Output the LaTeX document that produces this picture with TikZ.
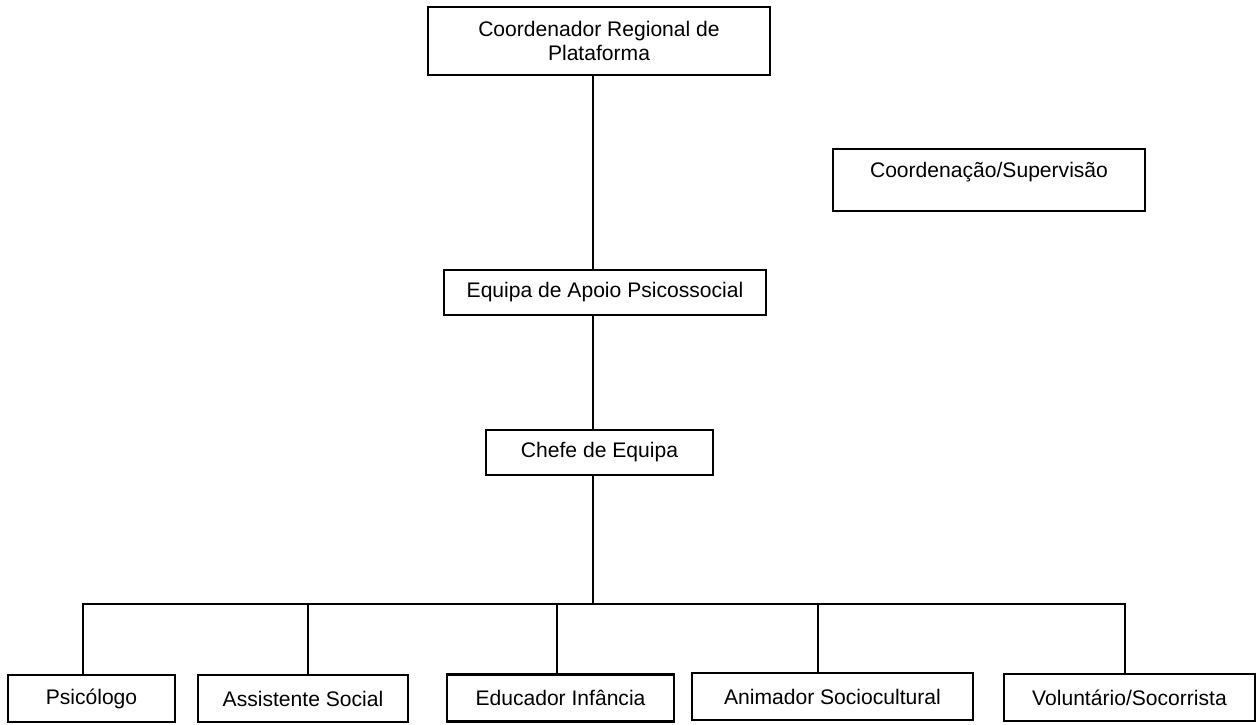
\documentclass[tikz,border=0pt]{standalone}
\usepackage{fontspec}
\setmainfont{Liberation Sans}
\usetikzlibrary{calc}

\begin{document}
\begin{tikzpicture}[x=0.02cm,y=-0.02cm]

\tikzset{box/.style = {shape=rectangle,draw,line width=1.3pt,inner sep=0pt,font=\fontsize{12}{14}\selectfont,align=center}}
\tikzset{link/.style = {line width=1.3pt}}
\useasboundingbox (0,0) rectangle (1260,724);
%boxes
\node[box, minimum width=342*0.02cm, minimum height=68*0.02cm] (coordReg) at (599,41) {Coordenador Regional de\\Plataforma};
\node[box, minimum width=312*0.02cm, minimum height=62*0.02cm, text depth=11.5pt] (superv) at (989,180) {Coordenação/Supervisão};
\node[box, minimum width=322*0.02cm, minimum height=45*0.02cm] (equipa) at (605,292.5) {Equipa de Apoio Psicossocial};
\node[box, minimum width=227*0.02cm, minimum height=45*0.02cm] (chefe) at (599.5,452.5) {Chefe de Equipa};
\node[box, minimum width=167*0.02cm, minimum height=47*0.02cm] (psi) at (91.5,698.5) {Psicólogo};
\node[box, minimum width=210*0.02cm, minimum height=47*0.02cm] (assist) at (303,698.5) {Assistente Social};
\node[box, minimum width=227*0.02cm, minimum height=47*0.02cm] (educ) at (560.5,698) {Educador Infância};
\node[box, minimum width=281*0.02cm, minimum height=47*0.02cm] (anim) at (832.5,696.5) {Animador Sociocultural};
\node[box, minimum width=251*0.02cm, minimum height=47*0.02cm] (volunt) at (1129.5,697.5) {Voluntário/Socorrista};
%bus
\coordinate (spine) at (593,0);
\coordinate (b1) at (83,604);
\coordinate (b2) at (308,604);
\coordinate (b3) at (557,604);
\coordinate (b4) at (818,604);
\coordinate (b5) at (1125,604);
%lines
\draw[link] (coordReg.south -| spine) -- (equipa.north -| spine);
\draw[link] (equipa.south -| spine) -- (chefe.north -| spine);
\draw[link] (chefe.south -| spine) -- (b1 -| spine);
\draw[link] (b1 |- psi.north) -- (b1) -- (b5) -- (b5 |- volunt.north);
\draw[link] (b2) -- (b2 |- assist.north);
\draw[link] (b3) -- (b3 |- educ.north);
\draw[link] (b4) -- (b4 |- anim.north);

\end{tikzpicture}
\end{document}
